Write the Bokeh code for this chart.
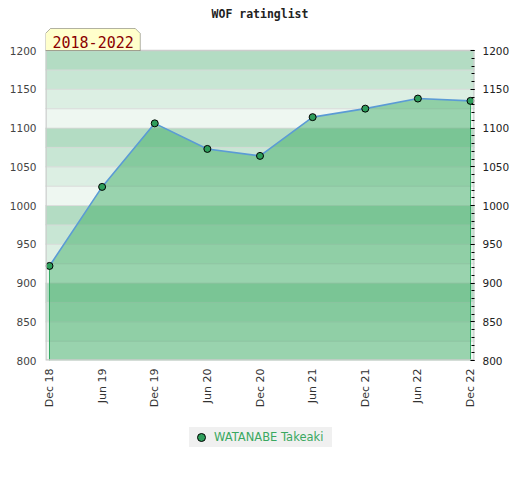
import math
from bokeh.plotting import figure
from bokeh.layouts import column
from bokeh.models import (Range1d, LinearAxis, FixedTicker, Legend, LegendItem,
                          Label, PolyAnnotation, ColumnDataSource)
from bokeh.embed import file_html
from bokeh.resources import INLINE

# ---- data ----
periods = ["Dec 18", "Jun 19", "Dec 19", "Jun 20", "Dec 20", "Jun 21", "Dec 21", "Jun 22", "Dec 22"]
ratings = [922, 1024, 1106, 1073, 1064, 1114, 1125, 1138, 1135]
y_ticks = [800, 850, 900, 950, 1000, 1050, 1100, 1150, 1200]
player = "WATANABE Takeaki"
title_text = "WOF ratinglist"
span_text = "2018-2022"

y_min, y_max = 800, 1200
stripe_step = 25
stripe_colors = ["#b3dcc3", "#c8e6d4", "#dcefe3", "#eef7f1"]  # top-down within each 100 block

xs = list(range(len(periods)))
pad = 0.076

# layout in pixels
frame_w, plot_h, head_px = 430, 310, 50
ppx = frame_w / (len(periods) - 1 + 2 * pad)
ppy = plot_h / (y_max - y_min)
y_top = y_max + head_px / ppy

p = figure(width=512, height=415, output_backend="svg", toolbar_location=None,
           x_range=Range1d(-pad, len(periods) - 1 + pad),
           y_range=Range1d(y_min, y_top),
           min_border_left=45, min_border_right=37, min_border_top=0, min_border_bottom=55,
           background_fill_color="white", border_fill_color="white",
           outline_line_color=None)
p.xgrid.visible = False
p.ygrid.visible = False

# ---- background stripes ----
bottoms = list(range(y_min, y_max, stripe_step))
tops = [b + stripe_step for b in bottoms]
cols = []
for b in bottoms:
    idx = int(((y_max - (b + stripe_step)) // stripe_step) % 4)
    cols.append(stripe_colors[idx])
p.quad(left=-1, right=len(periods) + 1, bottom=bottoms, top=tops,
       fill_color=cols, line_color="#d8d8d8", line_width=1, line_alpha=0.7)

# ---- area ----
src = ColumnDataSource(dict(x=xs, y=ratings, base=[y_min] * len(xs)))
p.varea(x="x", y1="base", y2="y", source=src, fill_color="#3baa62", fill_alpha=0.475)
p.segment(x0=[xs[0], xs[-1]], y0=[y_min, y_min], x1=[xs[0], xs[-1]],
          y1=[ratings[0], ratings[-1]], line_color="#34a864", line_width=1)
p.line(x="x", y="y", source=src, line_color="#5b9bd5", line_width=1.6)
pts = p.scatter(x="x", y="y", source=src, size=7, fill_color="#2e9e5b",
                line_color="black", line_width=1)

# plot border (only around the rating area)
p.quad(left=-pad + 0.5 / ppx, right=len(periods) - 1 + pad - 0.5 / ppx,
       bottom=y_min + 0.5 / ppy, top=y_max,
       fill_color=None, line_color="#cccccc", line_width=1.5)

# ---- axes ----
p.yaxis.ticker = FixedTicker(ticks=y_ticks)
p.yaxis.axis_line_color = None
p.yaxis.major_tick_line_color = None
p.yaxis.minor_tick_line_color = None
p.yaxis.major_tick_out = 0
p.yaxis.minor_tick_out = 0
p.yaxis.major_label_text_font = "DejaVu Sans"
p.yaxis.major_label_text_font_size = "10.5px"
p.yaxis.major_label_text_color = "#444444"
p.yaxis.major_label_standoff = 9

ra = LinearAxis(ticker=FixedTicker(ticks=y_ticks, minor_ticks=list(range(y_min, y_max + 1, 10))))
ra.axis_line_color = None
ra.major_tick_in = 4
ra.major_tick_out = 0
ra.minor_tick_in = 3
ra.minor_tick_out = 0
ra.major_tick_line_color = "black"
ra.minor_tick_line_color = "black"
ra.major_label_text_font = "DejaVu Sans"
ra.major_label_text_font_size = "10.5px"
ra.major_label_text_color = "#222222"
ra.major_label_standoff = 8
p.add_layout(ra, "right")

p.xaxis.ticker = FixedTicker(ticks=xs)
p.xaxis.major_label_overrides = {i: s for i, s in zip(xs, periods)}
p.xaxis.major_label_orientation = math.pi / 2
p.xaxis.axis_line_color = None
p.xaxis.major_tick_line_color = None
p.xaxis.minor_tick_line_color = None
p.xaxis.major_tick_out = 0
p.xaxis.minor_tick_out = 0
p.xaxis.major_label_text_font = "DejaVu Sans"
p.xaxis.major_label_text_font_size = "11px"
p.xaxis.major_label_text_color = "#333333"
p.xaxis.major_label_standoff = 8

# ---- annotations (positions converted from pixels to data) ----
def dx(px):
    return -pad + px / ppx

def dy(py):
    return y_max + py / ppy

box_xs = [dx(0), dx(0), dx(5), dx(90), dx(95), dx(95)]
box_ys = [dy(0), dy(17), dy(22), dy(22), dy(17), dy(0)]
p.add_layout(PolyAnnotation(xs=box_xs, ys=box_ys, fill_color="#ffffcc", fill_alpha=1,
                            line_color="black", line_width=1))
p.add_layout(Label(x=dx(7), y=dy(8.5), text=span_text, text_font="DejaVu Sans Mono",
                   text_font_size="15px", text_color="#8b0000", text_baseline="alphabetic"))
p.add_layout(Label(x=dx(215), y=dy(37), text=title_text, text_font="DejaVu Sans Mono",
                   text_font_size="11.5px", text_font_style="bold", text_color="#222222",
                   text_align="center", text_baseline="alphabetic"))

# ---- legend in a strip below ----
leg_h = 57
q = figure(width=512, height=leg_h, output_backend="svg", toolbar_location=None,
           x_range=Range1d(0, 1), y_range=Range1d(0, 1),
           min_border_left=0, min_border_right=0, min_border_top=0, min_border_bottom=0,
           background_fill_color="white", border_fill_color="white",
           outline_line_color=None)
q.axis.visible = False
q.grid.visible = False
dummy = q.scatter(x=[-5], y=[-5], size=7, fill_color="#2e9e5b", line_color="black", line_width=1)
legend = Legend(items=[LegendItem(label=player, renderers=[dummy])],
                location=(144, leg_h - 32), orientation="horizontal",
                background_fill_color="#f0f0f0", background_fill_alpha=1,
                border_line_color=None, padding=0, margin=0, spacing=0,
                glyph_width=24, glyph_height=20, label_standoff=1,
                label_width=118, label_height=20,
                label_text_font="DejaVu Sans", label_text_font_size="11.5px",
                label_text_color="#3aa860")
q.add_layout(legend, "center")

layout = column(p, q, spacing=0)
open("out.html", "w").write(file_html(layout, INLINE))
